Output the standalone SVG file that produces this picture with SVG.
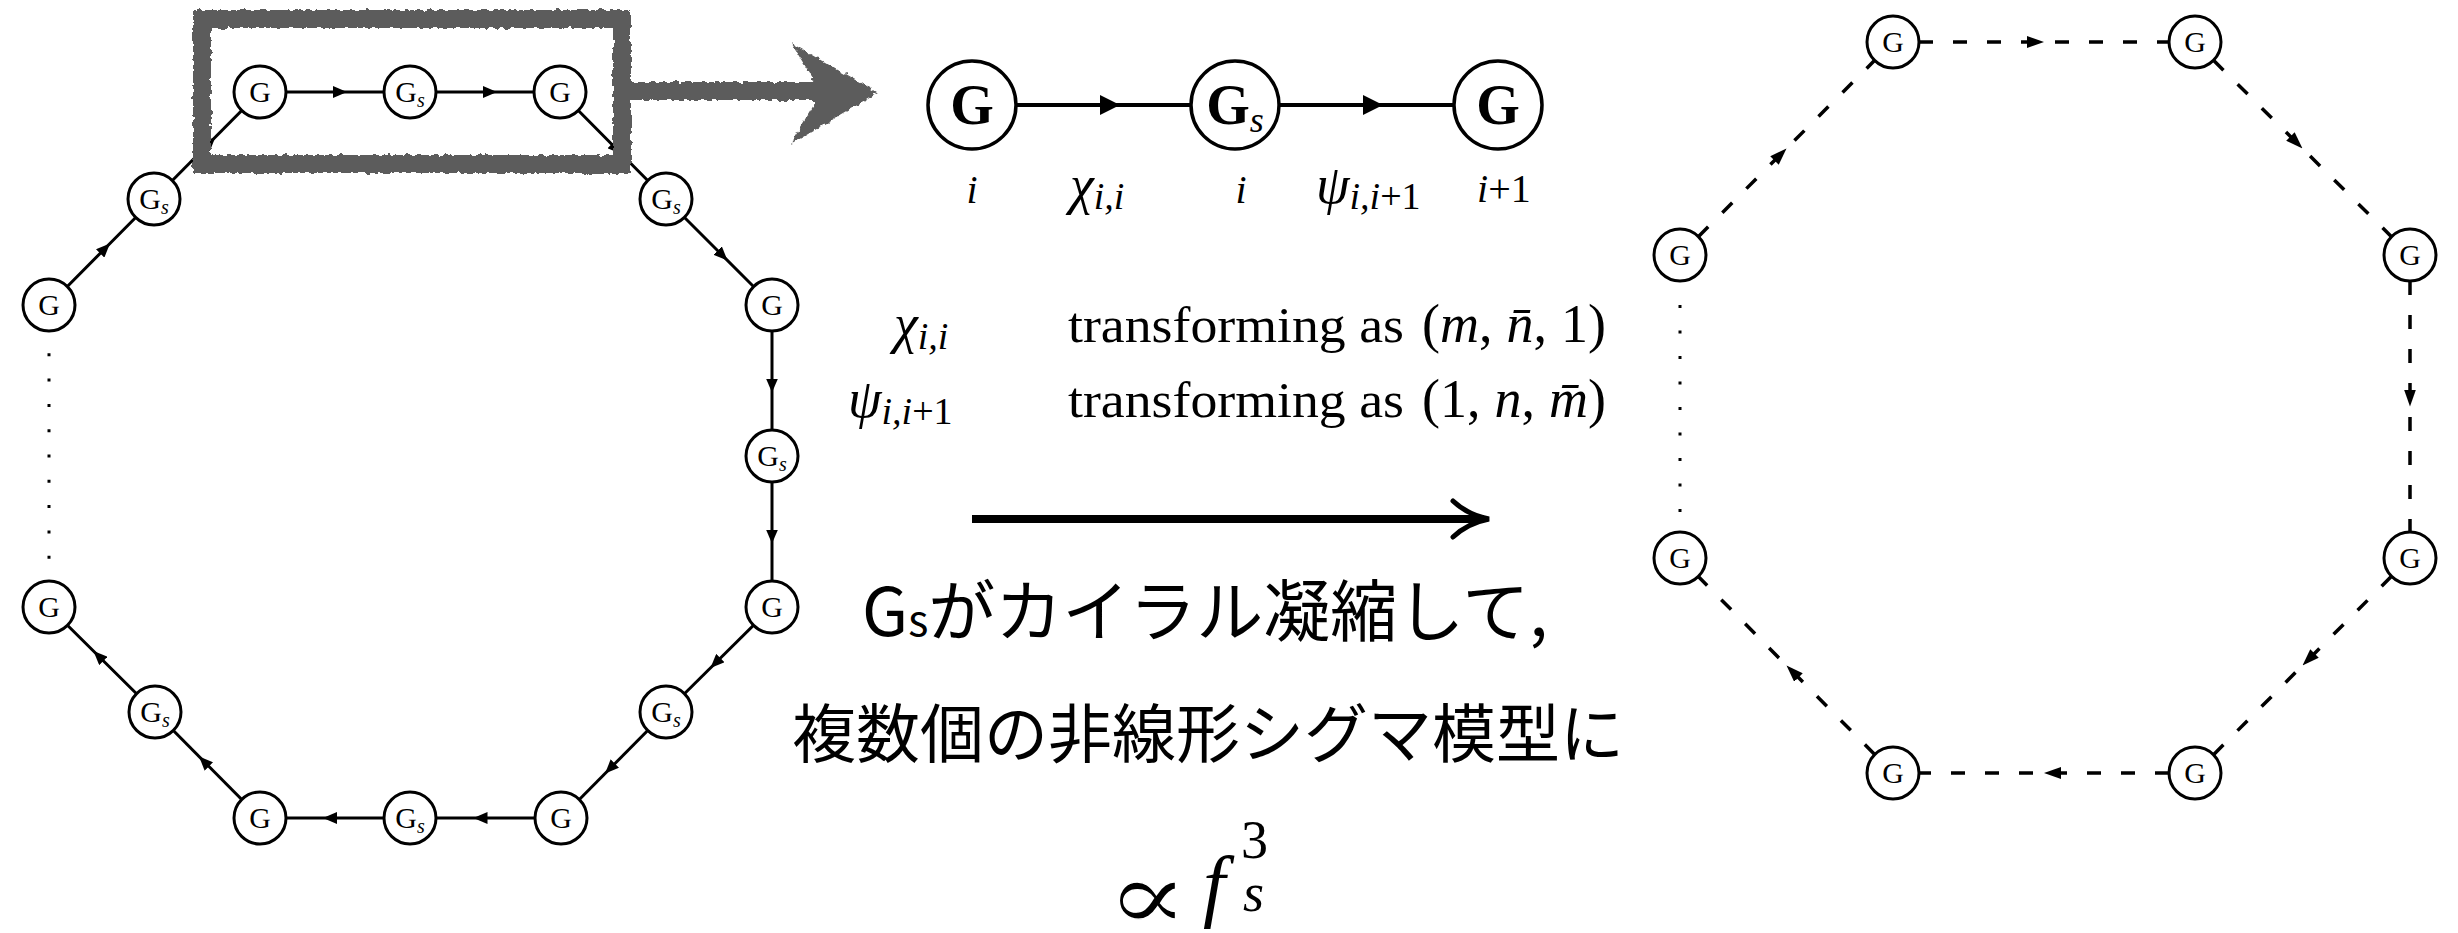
<svg xmlns="http://www.w3.org/2000/svg" width="2458" height="933" viewBox="0 0 2458 933">
<defs>
  <marker id="arrL" markerUnits="userSpaceOnUse" markerWidth="14" markerHeight="12" viewBox="0 0 14 12" refX="2" refY="6" orient="auto">
    <path d="M0,0 L14,6 L0,12 Z" fill="#000"/>
  </marker>
  <marker id="arrM" markerUnits="userSpaceOnUse" markerWidth="20" markerHeight="20" viewBox="0 0 20 20" refX="3" refY="10" orient="auto">
    <path d="M0,0 L20,10 L0,20 Z" fill="#000"/>
  </marker>
  <marker id="arrR" markerUnits="userSpaceOnUse" markerWidth="17" markerHeight="12" viewBox="0 0 17 12" refX="17" refY="6" orient="auto">
    <path d="M0,0 L17,6 L0,12 Z" fill="#000"/>
  </marker>
  <filter id="rough" filterUnits="userSpaceOnUse" x="0" y="0" width="2458" height="933">
    <feTurbulence type="fractalNoise" baseFrequency="0.18" numOctaves="2" seed="4" result="n"/>
    <feDisplacementMap in="SourceGraphic" in2="n" scale="6" xChannelSelector="R" yChannelSelector="G"/>
  </filter>
</defs>
<style>
  .nd{fill:#fff;stroke:#000;stroke-width:3}
  .ndb{fill:#fff;stroke:#000;stroke-width:3.5}
  .t{font-family:"Liberation Serif","DejaVu Serif",serif;fill:#000}
  .nl{font-size:30px;text-anchor:middle}
  .ns{font-size:20px;font-style:italic}
  .bl{font-size:56px;font-weight:bold;text-anchor:middle}
  .bs{font-size:36px;font-style:italic;font-weight:normal}
  .it{font-style:italic}
  .gk{font-size:54px;font-style:italic}
  .sb{font-size:38px}
  .e{fill:none;stroke:#000;stroke-width:3;marker-mid:url(#arrL)}
  .em{fill:none;stroke:#000;stroke-width:4;marker-mid:url(#arrM)}
  .ed{fill:none;stroke:#000;stroke-width:3.5;stroke-dasharray:14 20;marker-mid:url(#arrR)}
  .dot{fill:none;stroke:#000;stroke-width:3}
  .gray{fill:none;stroke:#5b5b5b;filter:url(#rough)}
  .jp{font-family:"Noto Sans CJK JP",sans-serif;fill:#000;text-anchor:middle}
</style>
<rect width="2458" height="933" fill="#fff"/>

<!-- left ring connectors -->
<g id="left-connectors">
  <path class="e" d="M260,92 L335,92 L410,92"/>
  <path class="e" d="M410,92 L485,92 L560,92"/>
  <path class="e" d="M560,92 L613,145.5 L666,199"/>
  <path class="e" d="M666,199 L719,252 L772,305"/>
  <path class="e" d="M772,305 L772,380.5 L772,456"/>
  <path class="e" d="M772,456 L772,531.5 L772,607"/>
  <path class="e" d="M772,607 L719,659.5 L666,712"/>
  <path class="e" d="M666,712 L613.5,765 L561,818"/>
  <path class="e" d="M561,818 L485.5,818 L410,818"/>
  <path class="e" d="M410,818 L335,818 L260,818"/>
  <path class="e" d="M260,818 L207.5,765 L155,712"/>
  <path class="e" d="M155,712 L102,659.5 L49,607"/>
  <path class="e" d="M49,305 L101.5,252 L154,199"/>
  <path class="e" d="M154,199 L207,145.5 L260,92"/>
  <path class="dot" d="M49,328 L49,584" stroke-dasharray="3 22.3"/>
</g>

<!-- left ring nodes -->
<g id="L-G1"><circle class="nd" cx="260" cy="92" r="26"/><text class="t nl" x="260" y="102">G</text></g>
<g id="L-S1"><circle class="nd" cx="410" cy="92" r="26"/><text class="t nl" x="410" y="102">G<tspan class="ns" dy="5">s</tspan></text></g>
<g id="L-G2"><circle class="nd" cx="560" cy="92" r="26"/><text class="t nl" x="560" y="102">G</text></g>
<g id="L-S2"><circle class="nd" cx="666" cy="199" r="26"/><text class="t nl" x="666" y="209">G<tspan class="ns" dy="5">s</tspan></text></g>
<g id="L-G3"><circle class="nd" cx="772" cy="305" r="26"/><text class="t nl" x="772" y="315">G</text></g>
<g id="L-S3"><circle class="nd" cx="772" cy="456" r="26"/><text class="t nl" x="772" y="466">G<tspan class="ns" dy="5">s</tspan></text></g>
<g id="L-G4"><circle class="nd" cx="772" cy="607" r="26"/><text class="t nl" x="772" y="617">G</text></g>
<g id="L-S4"><circle class="nd" cx="666" cy="712" r="26"/><text class="t nl" x="666" y="722">G<tspan class="ns" dy="5">s</tspan></text></g>
<g id="L-G5"><circle class="nd" cx="561" cy="818" r="26"/><text class="t nl" x="561" y="828">G</text></g>
<g id="L-S5"><circle class="nd" cx="410" cy="818" r="26"/><text class="t nl" x="410" y="828">G<tspan class="ns" dy="5">s</tspan></text></g>
<g id="L-G6"><circle class="nd" cx="260" cy="818" r="26"/><text class="t nl" x="260" y="828">G</text></g>
<g id="L-S6"><circle class="nd" cx="155" cy="712" r="26"/><text class="t nl" x="155" y="722">G<tspan class="ns" dy="5">s</tspan></text></g>
<g id="L-G7"><circle class="nd" cx="49" cy="607" r="26"/><text class="t nl" x="49" y="617">G</text></g>
<g id="L-G8"><circle class="nd" cx="49" cy="305" r="26"/><text class="t nl" x="49" y="315">G</text></g>
<g id="L-S7"><circle class="nd" cx="154" cy="199" r="26"/><text class="t nl" x="154" y="209">G<tspan class="ns" dy="5">s</tspan></text></g>

<!-- sketchy highlight box and arrow -->
<g id="highlight">
  <rect class="gray" x="202" y="19" width="420" height="145" stroke-width="18"/>
  <path class="gray" d="M630,91 L822,91" stroke-width="18"/>
  <path d="M791,43 L878,93 L791,144 L815,103 L815,82 Z" fill="#5b5b5b" filter="url(#rough)"/>
</g>

<!-- middle chain -->
<g id="chain-connectors">
  <path class="em" d="M1016,105 L1103,105 L1191,105"/>
  <path class="em" d="M1279,105 L1366,105 L1454,105"/>
</g>
<g id="M-G1"><circle class="ndb" cx="972" cy="105" r="44"/><text class="t bl" x="972" y="124">G</text></g>
<g id="M-S"><circle class="ndb" cx="1235" cy="105" r="44"/><text class="t bl" x="1235" y="124">G<tspan class="bs" dy="8">s</tspan></text></g>
<g id="M-G2"><circle class="ndb" cx="1498" cy="105" r="44"/><text class="t bl" x="1498" y="124">G</text></g>

<g id="chain-labels" class="t">
  <text x="972" y="203" font-size="40" font-style="italic" text-anchor="middle">i</text>
  <text x="1070" y="203"><tspan class="gk">χ</tspan><tspan class="sb it" dy="6">i,i</tspan></text>
  <text x="1241" y="203" font-size="40" font-style="italic" text-anchor="middle">i</text>
  <text x="1316" y="203"><tspan class="gk">ψ</tspan><tspan class="sb" dy="6"><tspan class="it">i,i</tspan>+1</tspan></text>
  <text x="1477" y="202" font-size="40"><tspan class="it">i</tspan>+1</text>
</g>

<g id="transform-text" class="t">
  <text x="894" y="342"><tspan class="gk">χ</tspan><tspan class="sb it" dy="7">i,i</tspan></text>
  <text x="1068" y="342" font-size="50" textLength="336" lengthAdjust="spacingAndGlyphs">transforming as</text>
  <text x="1422" y="342" font-size="54">(<tspan class="it">m</tspan>,<tspan class="it" dx="14">n̄</tspan>,<tspan dx="14">1)</tspan></text>
  <text x="848" y="417"><tspan class="gk">ψ</tspan><tspan class="sb" dy="7"><tspan class="it">i,i</tspan>+1</tspan></text>
  <text x="1068" y="417" font-size="50" textLength="336" lengthAdjust="spacingAndGlyphs">transforming as</text>
  <text x="1422" y="417" font-size="54">(1,<tspan class="it" dx="14">n</tspan>,<tspan class="it" dx="14">m̄</tspan>)</text>
</g>

<!-- big arrow -->
<g id="big-arrow">
  <path d="M972,519 L1484,519" stroke="#000" stroke-width="8" fill="none"/>
  <path d="M1453,501 Q1468,515 1489,519 Q1468,523 1453,537" stroke="#000" stroke-width="5" fill="none" stroke-linecap="round"/>
</g>

<g id="jp-text">
  <text class="jp" x="1205" y="636" font-size="67">G<tspan font-size="43">s</tspan>がカイラル凝縮して,</text>
  <text class="jp" x="1208" y="757" font-size="64">複数個の非線形シグマ模型に</text>
</g>

<g id="formula">
  <text transform="translate(1106,930) scale(1.25,1)" font-family="DejaVu Serif" font-size="98" fill="#000" stroke="#fff" stroke-width="1.3">∝</text>
  <text x="1203" y="912" font-family="Liberation Serif" font-size="80" font-style="italic" fill="#000">f</text>
  <text x="1241" y="858" font-family="Liberation Serif" font-size="54" fill="#000">3</text>
  <text x="1243" y="911" font-family="Liberation Serif" font-size="54" font-style="italic" fill="#000">s</text>
</g>

<!-- right ring connectors -->
<g id="right-connectors">
  <path class="ed" d="M1919,42 L2044,42 L2169,42"/>
  <path class="ed" d="M2213.5,60.3 L2302.5,148.5 L2391.5,236.7"/>
  <path class="ed" d="M2410,281 L2410,406.5 L2410,532"/>
  <path class="ed" d="M2391.5,576.3 L2302.5,665.5 L2213.5,754.7"/>
  <path class="ed" d="M2169,773 L2044,773 L1919,773"/>
  <path class="ed" d="M1874.7,754.5 L1786.5,665.5 L1698.3,576.5"/>
  <path class="ed" d="M1698.3,236.7 L1786.5,148.5 L1874.7,60.3"/>
  <path class="dot" d="M1680,305 L1680,537" stroke-dasharray="3 22.5"/>
</g>

<g id="R-A"><circle class="nd" cx="1893" cy="42" r="26"/><text class="t nl" x="1893" y="52">G</text></g>
<g id="R-B"><circle class="nd" cx="2195" cy="42" r="26"/><text class="t nl" x="2195" y="52">G</text></g>
<g id="R-C"><circle class="nd" cx="2410" cy="255" r="26"/><text class="t nl" x="2410" y="265">G</text></g>
<g id="R-D"><circle class="nd" cx="2410" cy="558" r="26"/><text class="t nl" x="2410" y="568">G</text></g>
<g id="R-E"><circle class="nd" cx="2195" cy="773" r="26"/><text class="t nl" x="2195" y="783">G</text></g>
<g id="R-F"><circle class="nd" cx="1893" cy="773" r="26"/><text class="t nl" x="1893" y="783">G</text></g>
<g id="R-H"><circle class="nd" cx="1680" cy="558" r="26"/><text class="t nl" x="1680" y="568">G</text></g>
<g id="R-I"><circle class="nd" cx="1680" cy="255" r="26"/><text class="t nl" x="1680" y="265">G</text></g>
</svg>
